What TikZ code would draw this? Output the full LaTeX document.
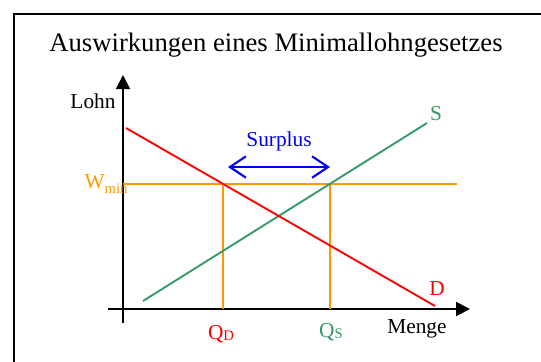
\documentclass[tikz,border=0pt]{standalone}
\usepackage{fontspec}
\setmainfont{Liberation Serif}
\usetikzlibrary{arrows.meta, positioning, calc}
\definecolor{mwRed}{HTML}{FF0000}
\definecolor{mwGreen}{HTML}{339966}
\definecolor{mwOrange}{HTML}{FF9900}
\definecolor{mwBlue}{HTML}{0000FF}
\newcommand{\lowsub}[2]{\raisebox{#1}{\fontsize{11}{11}\selectfont #2}}
\tikzset{
  frame/.style={draw=black, line width=1.6pt},
  axisline/.style={-{Triangle[length=10.5pt, width=10.5pt]}, line width=1.5pt, black},
  demand/.style={line width=1.4pt, mwRed},
  supply/.style={line width=1.4pt, mwGreen},
  minwage/.style={line width=1.4pt, mwOrange},
  surplusarrow/.style={
    {Straight Barb[length=12pt, width=16pt]}-{Straight Barb[length=12pt, width=16pt]},
    line width=1.6pt, mwBlue
  },
  lbl/.style={font=\fontsize{16}{18}\selectfont, inner sep=1pt},
  titlelbl/.style={font=\fontsize{20}{24}\selectfont, inner sep=1pt}
}

\begin{document}
\begin{tikzpicture}[x=0.75pt, y=-0.75pt]
  \useasboundingbox (0,0) rectangle (541,361);
  \draw[frame] (14,14) rectangle (560,380);
  \node[titlelbl] (title) at (276,45) {Auswirkungen eines Minimallohngesetzes};
  % axes
  \coordinate (xs) at (108,309);
  \coordinate (xe) at (470,309);
  \coordinate (ys) at (123,323);
  \coordinate (ye) at (123,75);
  \draw[axisline] (xs) -- (xe);
  \draw[axisline] (ys) -- (ye);
  \node[lbl] (lohn) at (93,101) {Lohn};
  \node[lbl] (menge) at (417,329) {Menge};
  % curves
  \coordinate (d1) at (126,128);
  \coordinate (d2) at (435,306);
  \coordinate (s1) at (143,301);
  \coordinate (s2) at (427,123);
  \coordinate (w1) at (123,184);
  \coordinate (w2) at (457,184);
  \draw[minwage] (w1) -- (w2);
  \coordinate (qd) at (intersection of d1--d2 and w1--w2);
  \coordinate (qs) at (intersection of s1--s2 and w1--w2);
  \draw[minwage] (qd) -- (qd |- xs);
  \draw[minwage] (qs) -- (qs |- xs);
  \draw[supply] (s1) -- (s2);
  \draw[demand] (d1) -- (d2);
  \node[lbl, mwGreen] (slbl) at (436,114) {S};
  \node[lbl, mwRed] (dlbl) at (437,289) {D};
  \node[lbl, mwOrange] (wmin) at (106,184) {W\lowsub{-4pt}{min}};
  \node[lbl, mwRed] (qdlbl) at (221,334) {Q\lowsub{-1pt}{D}};
  \node[lbl, mwGreen] (qslbl) at (331,332) {Q\lowsub{-1pt}{S}};
  % surplus
  \coordinate (sl) at (228,167);
  \coordinate (sr) at (330,167);
  \draw[surplusarrow] (sl) -- (sr);
  \node[lbl, mwBlue] (surplus) at (279,141) {Surplus};
\end{tikzpicture}
\end{document}
